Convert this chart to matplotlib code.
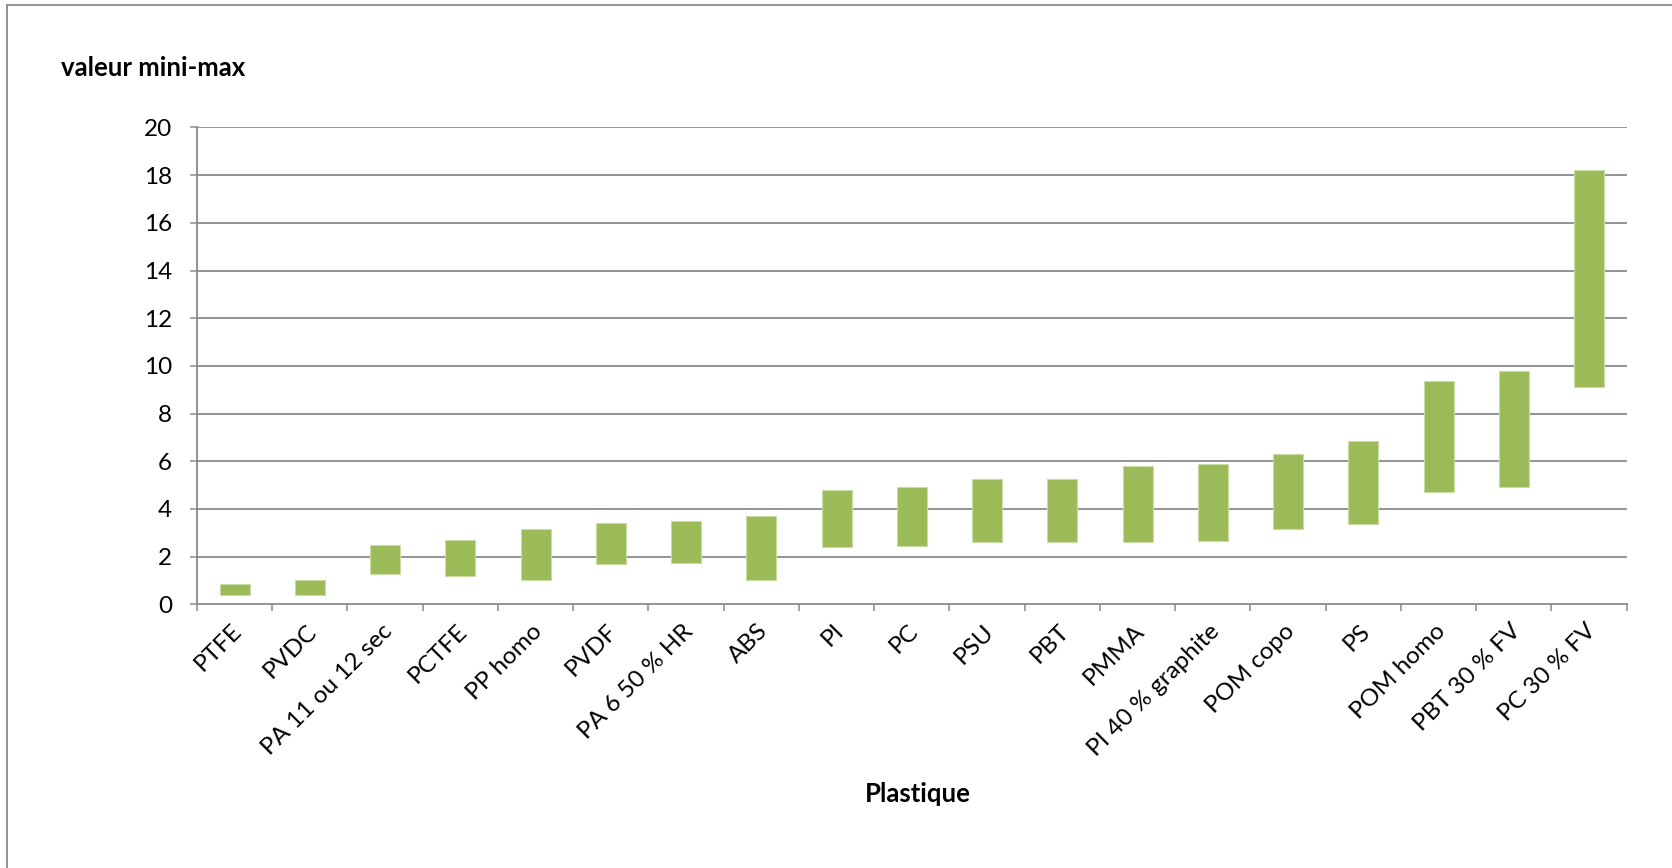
import matplotlib
matplotlib.use("Agg")
import matplotlib.pyplot as plt
import matplotlib.transforms as mtransforms
from matplotlib.lines import Line2D
import numpy as np

plt.rcParams['font.family'] = ['Lato', 'DejaVu Sans']

# Plastics and their min / max values
plastiques = ["PTFE", "PVDC", "PA 11 ou 12 sec", "PCTFE", "PP homo", "PVDF",
              "PA 6 50 % HR", "ABS", "PI", "PC", "PSU", "PBT", "PMMA",
              "PI 40 % graphite", "POM copo", "PS", "POM homo", "PBT 30 % FV",
              "PC 30 % FV"]
valeur_min = [0.4, 0.4, 1.25, 1.2, 1.0, 1.7, 1.75, 1.0, 2.4, 2.45, 2.6, 2.6,
              2.6, 2.65, 3.15, 3.35, 4.7, 4.9, 9.1]
valeur_max = [0.85, 1.0, 2.5, 2.7, 3.15, 3.4, 3.5, 3.7, 4.8, 4.9, 5.25, 5.25,
              5.8, 5.9, 6.3, 6.85, 9.35, 9.8, 18.2]
y_ticks = [0, 2, 4, 6, 8, 10, 12, 14, 16, 18, 20]

W, H, DPI = 1672, 868, 100
fig = plt.figure(figsize=(W / DPI, H / DPI), dpi=DPI)
fig.patch.set_facecolor("white")

grey = "#8a8a8a"
green = "#9bbb59"

ax = fig.add_axes([197 / W, 1 - 604.3 / H, (1626.7 - 197) / W, (604.3 - 127.5) / H])

x = np.arange(len(plastiques))
lo = np.array(valeur_min)
hi = np.array(valeur_max)
ax.bar(x, hi - lo, bottom=lo, width=0.4, color=green,
       edgecolor="#c9dca3", linewidth=0.8, zorder=3)

ax.set_xlim(-0.5, len(plastiques) - 0.5)
ax.set_ylim(0, 20)

# horizontal gridlines
ax.set_yticks(y_ticks)
ax.set_yticklabels([str(v) for v in y_ticks], fontsize=17.5)
for v in y_ticks[1:]:
    ax.axhline(v, color=grey, lw=1.3, zorder=1)

for side in ("top", "right"):
    ax.spines[side].set_visible(False)
for side in ("left", "bottom"):
    ax.spines[side].set_color(grey)
    ax.spines[side].set_linewidth(1.3)
    ax.spines[side].set_zorder(2)

ax.tick_params(axis="y", direction="out", length=5.4, width=1.1, color=grey,
               pad=12.5, labelcolor="black")

# category labels at centres, tick marks at category boundaries
ax.set_xticks(x)
ax.set_xticklabels(plastiques, rotation=45, ha="right", va="top",
                   rotation_mode="anchor", fontsize=17.5)
ax.tick_params(axis="x", which="major", length=0, pad=11.5)
ax.set_xticks(np.arange(len(plastiques) + 1) - 0.5, minor=True)
ax.tick_params(axis="x", which="minor", direction="out", length=5.2,
               width=1.1, color=grey)
shift = mtransforms.ScaledTranslation(-4 / DPI, 0, fig.dpi_scale_trans)
for lab in ax.get_xticklabels():
    lab.set_transform(lab.get_transform() + shift)

# axis titles
fig.text(61 / W, 1 - 76 / H, "valeur mini-max", fontsize=18.5,
         fontweight="bold", ha="left", va="baseline")
fig.text(917.5 / W, 1 - 801.7 / H, "Plastique", fontsize=18.5,
         fontweight="bold", ha="center", va="baseline")

# chart frame (top and left edges)
fig.add_artist(Line2D([7 / W, 1], [1 - 5 / H, 1 - 5 / H], color=grey, lw=1.3,
                      transform=fig.transFigure))
fig.add_artist(Line2D([7 / W, 7 / W], [0, 1 - 5 / H], color=grey, lw=1.3,
                      transform=fig.transFigure))

fig.savefig("out.png", dpi=DPI)
